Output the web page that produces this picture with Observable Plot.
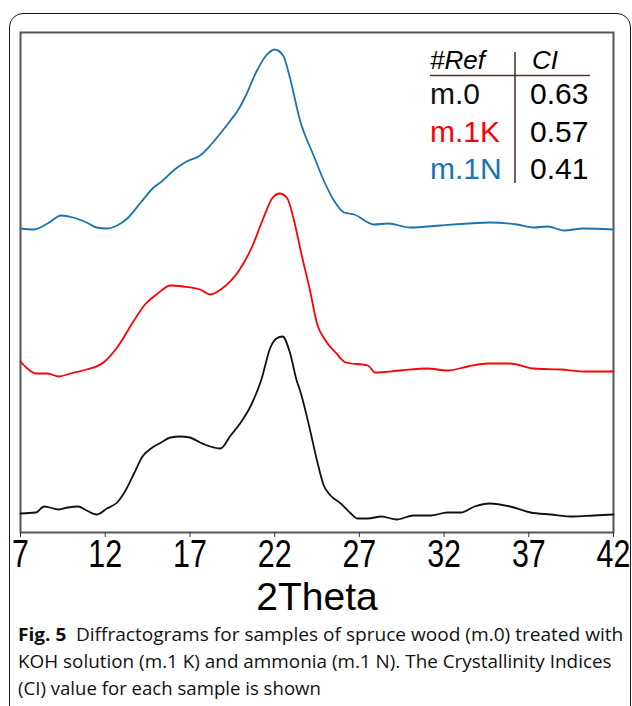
<!DOCTYPE html>
<html>
<head>
<meta charset="utf-8">
<script src="https://cdn.jsdelivr.net/npm/d3@7"></script>
<script src="https://cdn.jsdelivr.net/npm/@observablehq/plot@0.6"></script>
<style>
  html, body { margin: 0; padding: 0; background: #fff; width: 632px; height: 706px; overflow: hidden; }
  #card { position: absolute; left: 8.5px; top: 12.5px; width: 622px; height: 760px;
          border: 1.5px solid #1a1a1a; border-radius: 14px; box-sizing: border-box; }
  #chart { position: absolute; left: 0; top: 0; }
  #overlay { position: absolute; left: 0; top: 0; pointer-events: none; }
  #chart svg { overflow: visible; }
  #chart g[aria-label="x-axis tick label"] text { font-family: "Liberation Sans", Arial, sans-serif; font-size: 38px; fill: #000; }
  #chart g[aria-label="text"] text { font-family: "Liberation Sans", Arial, sans-serif; }
</style>
</head>
<body>
<div id="card"></div>
<div id="chart"></div>
<svg id="overlay" width="632" height="706"></svg>
<script>
// ---- data ----
const xTicks = [7, 12, 17, 22, 27, 32, 37, 42];
const xLabel = "2Theta";

const sampleNames = ["m.0", "m.1K", "m.1N"];
const sampleColors = ["#111111", "#ff0000", "#1a74ad"];
const ciValues = ["0.63", "0.57", "0.41"];
const tableHeader = ["#Ref", "CI"];

// m.0 (black)
const theta_m0 = [7.0,7.9,8.4,9.25,9.8,10.4,10.9,11.5,12.1,12.7,13.2,13.7,14.2,14.7,15.3,15.85,16.4,17.0,17.6,18.2,18.8,19.4,20.0,20.6,21.2,21.75,22.1,22.47,22.9,23.3,23.5,24.0,24.5,24.9,25.3,25.9,26.5,26.9,27.5,28.3,29.2,30.2,31.2,32.2,33.0,33.8,34.7,35.9,37.1,38.3,39.6,40.8,42.0];
const int_m0   = [3.8,4.0,5.2,4.6,5.0,5.2,4.4,3.6,4.8,6.0,8.4,11.8,15.2,16.8,18.0,19.0,19.2,19.0,18.0,17.2,16.8,19.4,22.0,25.4,30.4,37.0,38.8,39.2,36.0,30.4,28.4,21.8,14.4,9.4,7.4,5.8,3.8,2.8,2.8,3.2,2.6,3.4,3.4,4.0,4.0,5.2,5.8,5.2,4.0,3.6,3.2,3.4,3.6];

// m.1K (red)
const theta_m1K = [7.0,7.4,7.9,8.6,9.25,9.95,10.9,11.9,12.7,13.7,14.3,15.1,15.85,16.6,17.6,18.2,18.9,19.9,20.7,21.35,21.85,22.3,22.75,23.1,23.6,24.1,24.5,25.0,25.6,26.2,27.5,27.95,29.4,31.0,32.2,33.4,34.6,35.9,37.3,38.9,40.2,42.0];
const int_m1K   = [34.2,32.8,31.8,31.8,31.2,31.8,32.6,34.0,37.0,42.4,45.4,47.8,49.4,49.2,48.6,47.6,48.8,52.4,57.4,63.0,66.8,67.8,66.8,63.0,55.4,48.2,41.8,38.4,36.0,34.0,33.4,32.0,32.4,32.8,32.4,33.2,33.8,33.8,32.8,32.6,32.2,32.2];

// m.1N (blue)
const theta_m1N = [7.0,7.8,8.6,9.4,10.1,10.9,11.5,12.1,12.7,13.3,14.1,14.8,15.4,16.1,16.8,17.6,18.2,18.7,19.3,19.9,20.3,20.9,21.5,22.0,22.5,22.9,23.5,24.3,24.9,25.5,26.1,26.7,27.85,28.7,30.0,31.8,33.4,34.7,36.3,37.3,38.1,39.1,40.2,42.0];
const int_m1N   = [60.8,60.6,61.8,63.4,63.0,62.0,61.0,60.8,61.4,62.8,66.0,68.8,70.4,72.6,74.2,75.4,77.4,79.4,82.0,84.8,87.4,92.0,95.4,96.6,95.4,91.0,82.4,75.4,70.4,66.4,64.0,63.6,61.6,61.8,61.0,61.4,61.8,62.0,61.6,61.0,61.2,60.4,60.8,60.6];

const captionBold = "Fig. 5";
const captionLines = [
  "Diffractograms for samples of spruce wood (m.0) treated with",
  "KOH solution (m.1 K) and ammonia (m.1 N). The Crystallinity Indices",
  "(CI) value for each sample is shown"
];

// ---- build table for Plot ----
const seriesThetas = [theta_m0, theta_m1K, theta_m1N];
const seriesInts = [int_m0, int_m1K, int_m1N];
const rows = sampleNames.flatMap((name, s) =>
  seriesThetas[s].map((t, i) => ({ theta: t, intensity: seriesInts[s][i], sample: name })));

const chart = Plot.plot({
  width: 632,
  height: 622,
  marginLeft: 20,
  marginRight: 19,
  marginTop: 32,
  marginBottom: 90,
  style: { background: "transparent", color: "#000", overflow: "visible" },
  x: { domain: [7, 42] },
  y: { domain: [0, 100], axis: null },
  color: { domain: sampleNames, range: sampleColors },
  marks: [
    Plot.frame({ stroke: "#555", strokeWidth: 2 }),
    Plot.line(rows, { x: "theta", y: "intensity", z: "sample", stroke: "sample", strokeWidth: 1.8, strokeLinejoin: "round", curve: "monotone-x" }),
    Plot.axisX({ ticks: xTicks, tickFormat: d => String(d), tickSize: 5, tickPadding: 3, label: null, stroke: "#333" }),
    Plot.text([xLabel], { frameAnchor: "bottom", dy: 65.5, lineAnchor: "middle", fontSize: 39, fill: "#000", text: d => d })
  ]
});
document.getElementById("chart").appendChild(chart);

// condensed tick labels: horizontal squeeze around each label's anchor
d3.select(chart).selectAll('g[aria-label="x-axis tick label"] text').each(function () {
  const tr = this.getAttribute("transform") || "";
  this.setAttribute("transform", tr + " scale(0.8,1)");
});

// ---- legend table and caption (overlay) ----
const ov = d3.select("#overlay");
const font = '"Liberation Sans", Arial, sans-serif';
const lg = ov.append("g");
lg.selectAll("text.hdr").data(tableHeader).join("text")
  .attr("x", (d, i) => i === 0 ? 430 : 532).attr("y", 69)
  .attr("font-family", font).attr("font-size", 26).attr("font-style", "italic").attr("fill", "#000")
  .text(d => d);
lg.append("line").attr("x1", 430).attr("x2", 590).attr("y1", 75.5).attr("y2", 75.5)
  .attr("stroke", "#6a2a2a").attr("stroke-width", 1.6);
lg.append("line").attr("x1", 515).attr("x2", 515).attr("y1", 52).attr("y2", 183)
  .attr("stroke", "#3a1e1e").attr("stroke-width", 1.4);
lg.selectAll("text.nm").data(sampleNames).join("text")
  .attr("x", 430).attr("y", (d, i) => 104 + i * 37.5)
  .attr("font-family", font).attr("font-size", 30).attr("fill", (d, i) => sampleColors[i])
  .text(d => d);
lg.selectAll("text.ci").data(ciValues).join("text")
  .attr("x", 530).attr("y", (d, i) => 104 + i * 37.5)
  .attr("font-family", font).attr("font-size", 30).attr("fill", "#000")
  .text(d => d);

// caption: condensed humanist look via horizontal scaling to the reference widths
const capFont = '"Open Sans", "Noto Sans", sans-serif';
const capWidths = [596, 594, 303];
captionLines.forEach((line, i) => {
  const g = ov.append("g");
  const t = g.append("text").attr("x", 0).attr("y", 0)
    .attr("font-family", capFont).attr("font-size", 18).attr("fill", "#111");
  if (i === 0) {
    t.append("tspan").attr("font-weight", 700).text(captionBold);
    t.append("tspan").attr("dx", 9).text(line);
  } else {
    t.text(line);
  }
  const w = t.node().getComputedTextLength() || capWidths[i];
  g.attr("transform", `translate(18,${641 + i * 27}) scale(${capWidths[i] / w},1)`);
});
</script>
</body>
</html>
